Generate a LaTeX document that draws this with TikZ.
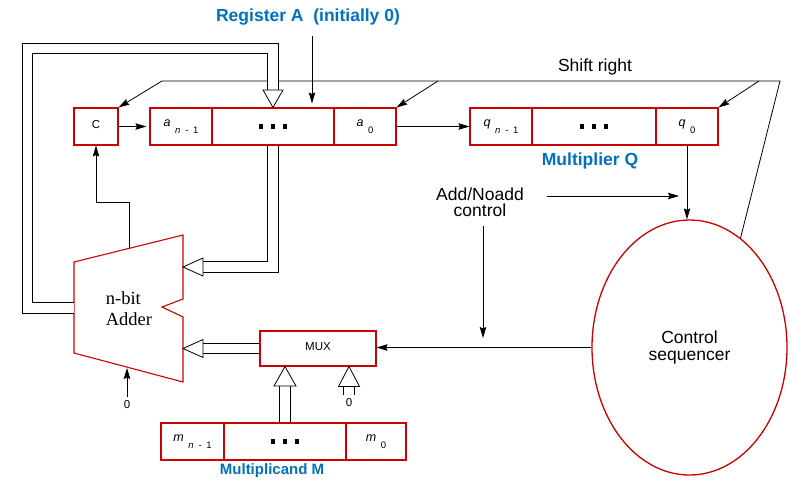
\documentclass[tikz,border=0pt]{standalone}
\usepackage{fontspec}
\setmainfont{Liberation Sans}
\newfontfamily\adderfont{Liberation Serif}
\usetikzlibrary{arrows.meta,shapes.geometric}
\definecolor{regred}{RGB}{204,0,0}
\definecolor{regblue}{RGB}{0,112,192}
\newcommand{\bitname}[2]{\raisebox{5pt}{\fontsize{12.5}{12.5}\selectfont\textit{#1}\raisebox{-6.5pt}{\fontsize{9.5}{9.5}\selectfont\enspace#2}}}
\newcommand{\bitdots}{\rule{4.5pt}{4.5pt}\hspace{7.5pt}\rule{4.5pt}{4.5pt}\hspace{7.5pt}\rule{4.5pt}{4.5pt}}
\begin{document}
\begin{tikzpicture}[x=1pt,y=-1pt,
  cell/.style={draw=regred,line width=1.1pt,minimum height=37pt,inner sep=0pt},
  sig/.style={-{Stealth[length=11pt,width=6.5pt,inset=1.5pt]},line width=0.8pt},
  wire/.style={line width=0.8pt},
  bus/.style={double,double distance=9.5pt,line width=0.8pt},
  head/.style={line width=0.8pt,fill=white,line join=miter},
  title/.style={text=regblue,font=\bfseries\fontsize{17.5}{17.5}\selectfont},
  big/.style={font=\fontsize{17.5}{16.5}\selectfont,align=center},
  small/.style={font=\fontsize{11.5}{11.5}\selectfont}]
\useasboundingbox (0,0) rectangle (790,480);
\node[title] (regA) at (308,17) {Register A\ \ (initially 0)};
\node[title] (mulQ) at (590,161) {Multiplier Q};
\node[title,font=\bfseries\fontsize{15}{15}\selectfont] (mulM) at (272,471) {Multiplicand M};
\node[big] (shift) at (595,67) {Shift right};
\node[big] (addctl) at (480,202) {Add/Noadd\\control};
\node[cell,minimum width=44pt,small] (C) at (96,126.5) {\raisebox{4pt}{C}};
\node[cell,minimum width=62pt] (an1) at (181,126.5) {\bitname{a}{\textit{n}\enspace-\enspace1}};
\node[cell,minimum width=122pt] (adots) at (273,126.5) {\bitdots};
\node[cell,minimum width=62pt] (a0) at (365,126.5) {\bitname{a}{0}};
\node[cell,minimum width=62pt] (qn1) at (501,126.5) {\bitname{q}{\textit{n}\enspace-\enspace1}};
\node[cell,minimum width=124pt] (qdots) at (594,126.5) {\bitdots};
\node[cell,minimum width=62pt] (q0) at (687,126.5) {\bitname{q}{0}};
\node[cell,minimum width=63pt] (mn1) at (192.5,441.5) {\bitname{m}{\textit{n}\enspace-\enspace1}};
\node[cell,minimum width=122pt] (mdots) at (285,441.5) {\bitdots};
\node[cell,minimum width=60pt] (m0) at (376,441.5) {\bitname{m}{0}};
\node[cell,minimum width=116pt,minimum height=35pt,small] (mux) at (318,348.5) {\raisebox{4pt}{MUX}\hspace{26pt}};
\node[draw=regred,line width=1.3pt,ellipse,minimum width=195pt,minimum height=255pt,inner sep=0pt,big] (seq) at (689.5,347.5) {Control\\sequencer};
\draw[draw=regred,line width=1.1pt] (74,262) -- (183,235) -- (183,299) -- (162,307) -- (183,317) -- (183,382) -- (74,353) -- cycle;
\node[font=\adderfont\fontsize{18.5}{21}\selectfont,align=left] (adder) at (129,309) {n-bit\\Adder};
\coordinate (adout) at (74,308);
\coordinate (adcarry) at (129,248);
\coordinate (adinA) at (183,267);
\coordinate (adinB) at (183,348.5);
\coordinate (adcin) at (128,368);
\node[small] (cin0) at (127,405) {0};
\node[small] (mux0) at (349,403) {0};
\coordinate (shL) at (162,81);
\coordinate (shR) at (780,81);
\coordinate (shA) at (438,81);
\coordinate (shQ) at (759,81);
\draw[wire] (seq.65) -- (shR) -- (shL);
\draw[sig] (shL) -- (C.north east);
\draw[sig] (shA) -- (a0.north east);
\draw[sig] (shQ) -- (q0.north east);
\draw[sig] ([xshift=4pt,yshift=-7pt]regA.south) -- ([xshift=39pt,yshift=4pt]adots.north);
\draw[sig,shorten >=3pt] (C.east) -- (an1.west);
\draw[sig] (a0.east) -- (qn1.west);
\draw[sig] (adcarry) -- ++(0,-46) -| (C.south);
\coordinate (ctlQ) at (679,196);
\coordinate (ctlM) at (483,338);
\draw[sig] (addctl.east |- ctlQ) ++(20,0) -- (ctlQ);
\draw[sig] (addctl.south -| ctlM) ++(0,6) -- (ctlM);
\draw[sig] (seq.west) -- (seq.west -| mux.east);
\draw[sig] (q0.south) -- (q0.south |- seq.north);
\draw[sig] (cin0.north) -- (cin0.north |- adcin);
\coordinate (busAtop) at (273,90);
\draw[bus] (adout) -| (27.5,48.5) -| (busAtop);
\draw[head] ([xshift=-10pt]busAtop) -- ([xshift=10pt]busAtop) -- (adots.north) -- cycle;
\coordinate (busAin) at (203,267);
\draw[bus] (adots.south) |- (busAin);
\draw[head] ([yshift=9pt]busAin) -- ([yshift=-9pt]busAin) -- (adinA) -- cycle;
\coordinate (busBin) at (203,348.5);
\draw[bus] (mux.west) -- (busBin);
\draw[head] ([yshift=9pt]busBin) -- ([yshift=-9pt]busBin) -- (adinB) -- cycle;
\coordinate (busM) at (285,386);
\draw[bus] (mdots.north) -- (busM);
\draw[head] ([xshift=-11pt]busM) -- ([xshift=11pt]busM) -- (busM |- mux.south) -- cycle;
\draw[bus] (mux0.north) -- ++(0,-9) coordinate (bus0);
\draw[head] ([xshift=-10.5pt]bus0) -- ([xshift=10.5pt]bus0) -- (bus0 |- mux.south) -- cycle;
\end{tikzpicture}
\end{document}
